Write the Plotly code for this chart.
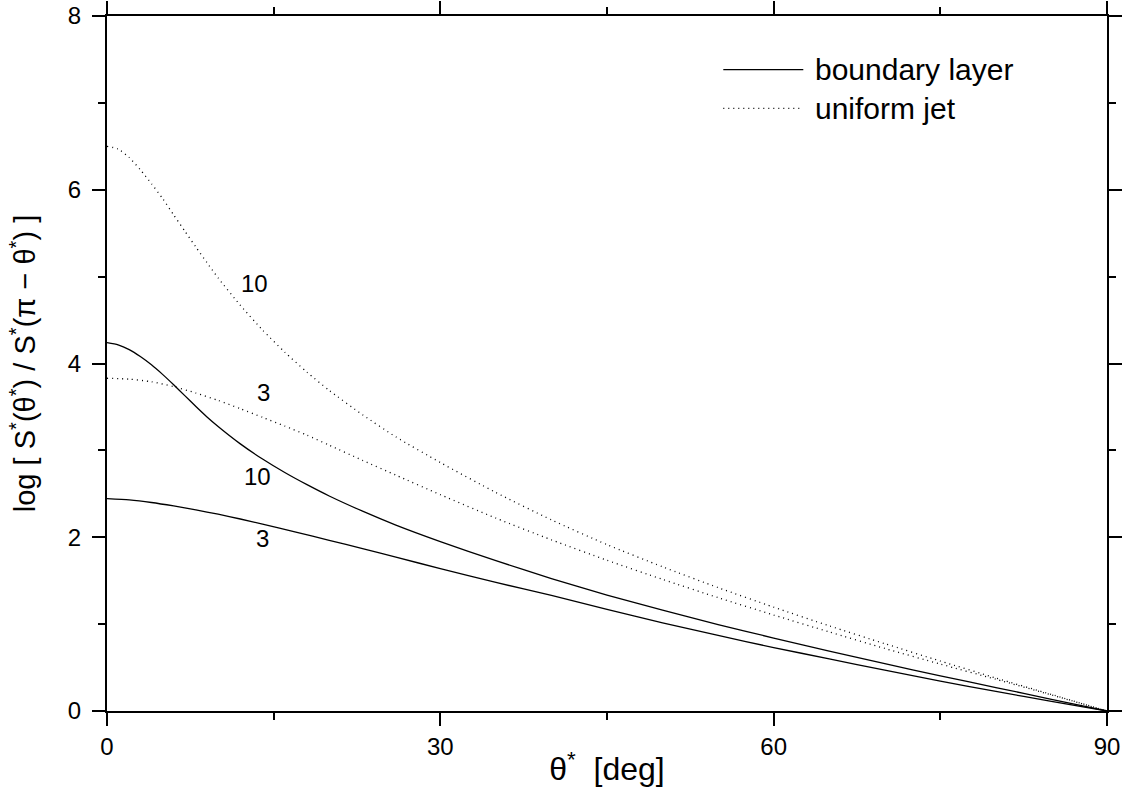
import plotly.graph_objects as go

# ---- data ----
theta_bl10 = [0, 1, 2, 3, 4, 5, 6, 7, 8, 9, 10, 12, 14, 16, 18, 20, 23, 26, 30, 35, 40, 45, 50, 55, 60, 65, 70, 75, 80, 85, 90]
bl10 = [4.24, 4.215, 4.16, 4.08, 3.985, 3.875, 3.755, 3.63, 3.505, 3.385, 3.275, 3.075, 2.90, 2.745, 2.605, 2.475, 2.30, 2.14, 1.95, 1.73, 1.525, 1.335, 1.16, 0.995, 0.84, 0.69, 0.545, 0.405, 0.27, 0.135, 0.0]

theta_bl3 = [0, 2, 4, 6, 8, 10, 12, 14, 17, 20, 23, 26, 30, 35, 40, 45, 50, 55, 60, 65, 70, 75, 80, 85, 90]
bl3 = [2.445, 2.43, 2.40, 2.36, 2.315, 2.265, 2.21, 2.15, 2.06, 1.965, 1.87, 1.77, 1.64, 1.48, 1.33, 1.17, 1.015, 0.87, 0.73, 0.60, 0.47, 0.345, 0.225, 0.11, 0.0]

theta_uj10 = [0, 1, 2, 3, 4, 5, 6, 7, 8, 9, 10, 12, 14, 16, 18, 20, 23, 26, 30, 35, 40, 45, 50, 55, 60, 65, 70, 75, 80, 85, 90]
uj10 = [6.50, 6.47, 6.37, 6.23, 6.07, 5.90, 5.71, 5.525, 5.34, 5.16, 4.985, 4.67, 4.385, 4.13, 3.90, 3.69, 3.41, 3.155, 2.86, 2.515, 2.20, 1.915, 1.66, 1.42, 1.195, 0.98, 0.775, 0.575, 0.38, 0.19, 0.0]

theta_uj3 = [0, 2, 4, 6, 8, 10, 12, 14, 16, 18, 20, 23, 26, 30, 35, 40, 45, 50, 55, 60, 65, 70, 75, 80, 85, 90]
uj3 = [3.83, 3.82, 3.79, 3.735, 3.66, 3.575, 3.48, 3.38, 3.28, 3.175, 3.06, 2.885, 2.715, 2.49, 2.22, 1.97, 1.735, 1.515, 1.305, 1.105, 0.91, 0.72, 0.54, 0.365, 0.185, 0.0]

x_major = [0, 30, 60, 90]
x_minor = [15, 45, 75]
y_major = [0, 2, 4, 6, 8]
y_minor = [1, 3, 5, 7]

# curve labels: (text, x, y)
curve_labels = [("10", 13.3, 4.92), ("3", 14.1, 3.67), ("10", 13.5, 2.70), ("3", 14.0, 1.99)]
legend_names = ["boundary layer", "uniform jet"]

FONT = "Liberation Sans, Arial, sans-serif"
DOT = "1px,4px"
NB = "\u00a0"

fig = go.Figure()
for xs, ys, dash in [(theta_bl10, bl10, "solid"), (theta_bl3, bl3, "solid"),
                     (theta_uj10, uj10, DOT), (theta_uj3, uj3, DOT)]:
    fig.add_trace(go.Scatter(x=xs, y=ys, mode="lines", showlegend=False, hoverinfo="skip",
                             line=dict(color="black", width=1.3, dash=dash, shape="spline", smoothing=0.6)))

annotations = []
for txt, xx, yy in curve_labels:
    annotations.append(dict(x=xx, y=yy, xref="x", yref="y", text=txt, showarrow=False,
                            font=dict(family=FONT, size=24, color="black")))

# manual legend (long line samples like the original)
leg_rows = [(0.9229, "solid"), (0.8672, DOT)]
shapes = []
for (py, dash), name in zip(leg_rows, legend_names):
    shapes.append(dict(type="line", xref="paper", yref="paper", x0=0.6163, x1=0.6963, y0=py, y1=py,
                       line=dict(color="black", width=1.3, dash=dash)))
    annotations.append(dict(x=0.7063, y=py, xref="paper", yref="paper", text=name, showarrow=False,
                            xanchor="left", yanchor="middle",
                            font=dict(family=FONT, size=30, color="black")))

axis_common = dict(showgrid=False, zeroline=False, showline=True, linecolor="black", linewidth=2,
                   mirror="ticks", ticks="outside", ticklen=13, tickwidth=2, tickcolor="black",
                   automargin=False,
                   tickfont=dict(family=FONT, size=24, color="black"))

fig.update_layout(
    width=1127, height=787,
    margin=dict(l=107, r=20, t=16, b=76),
    paper_bgcolor="white", plot_bgcolor="white",
    font=dict(family=FONT, color="black"),
    xaxis=dict(range=[0, 90], tickmode="array", tickvals=x_major, ticktext=[str(v) for v in x_major],
               minor=dict(tickmode="array", tickvals=x_minor, ticks="outside", ticklen=7, tickwidth=2, tickcolor="black"),
               title=dict(text=NB * 3 + "θ<sup>*</sup>" + NB * 2 + "[deg]", font=dict(family=FONT, size=32), standoff=0),
               **axis_common),
    yaxis=dict(range=[0, 8], tickmode="array", tickvals=y_major, ticktext=[str(v) for v in y_major],
               minor=dict(tickmode="array", tickvals=y_minor, ticks="outside", ticklen=7, tickwidth=2, tickcolor="black"),
               ticklabelstandoff=6,
               title=dict(text="log [ S<sup>*</sup>(θ<sup>*</sup>) / S<sup>*</sup>(π − θ<sup>*</sup>) ]",
                          font=dict(family=FONT, size=29), standoff=24),
               **axis_common),
    annotations=annotations,
    shapes=shapes,
)

fig.write_html("out.html", config={"displayModeBar": False},
               post_script="document.body.style.margin='0';document.body.style.overflow='hidden';")
